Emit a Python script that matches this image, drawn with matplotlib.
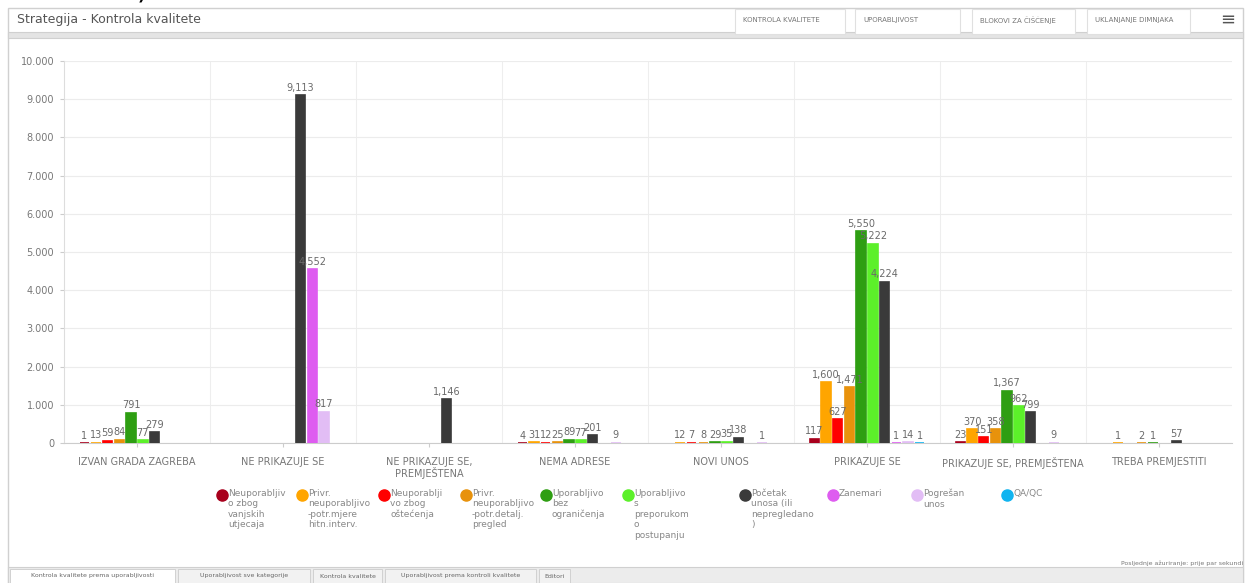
import numpy as np
import matplotlib.pyplot as plt
from matplotlib.patches import Rectangle

kategorije = ['IZVAN GRADA ZAGREBA', 'NE PRIKAZUJE SE', 'NE PRIKAZUJE SE,\nPREMJEŠTENA',
              'NEMA ADRESE', 'NOVI UNOS', 'PRIKAZUJE SE', 'PRIKAZUJE SE, PREMJEŠTENA',
              'TREBA PREMJESTITI']

serije = ['Neuporabljiv\no zbog\nvanjskih\nutjecaja',
          'Privr.\nneuporabljivo\n-potr.mjere\nhitn.interv.',
          'Neuporablji\nvo zbog\noštećenja',
          'Privr.\nneuporabljivo\n-potr.detalj.\npregled',
          'Uporabljivo\nbez\nograničenja',
          'Uporabljivo\ns\npreporukom\no\npostupanju',
          'Početak\nunosa (ili\nnepregledano\n)',
          'Zanemari',
          'Pogrešan\nunos',
          'QA/QC']
boje = ['#a8001c', '#ffa500', '#ff0000', '#e8920c', '#2e9e12', '#5cf02a',
        '#3a3a3a', '#de5cf0', '#e2bdf5', '#10b4f0']

N = None
# vrijednosti po seriji (redovi) i kategoriji (stupci)
neup_vanjski = [1, N, N, 4, N, 117, 23, N]
privr_hitn = [13, N, N, 31, 12, 1600, 370, 1]
neup_ostecenja = [59, N, N, 12, 7, 627, 151, N]
privr_detalj = [84, N, N, 25, 8, 1471, 358, 2]
upor_bez = [791, N, N, 89, 29, 5550, 1367, 1]
upor_prep = [77, N, N, 77, 35, 5222, 962, N]
pocetak = [279, 9113, 1146, 201, 138, 4224, 799, 57]
zanemari = [N, 4552, N, N, N, 1, N, N]
pogresan = [N, 817, N, 9, 1, 14, 9, N]
qaqc = [N, N, N, N, N, 1, N, N]
podaci = [neup_vanjski, privr_hitn, neup_ostecenja, privr_detalj, upor_bez,
          upor_prep, pocetak, zanemari, pogresan, qaqc]

yticks = [0, 1000, 2000, 3000, 4000, 5000, 6000, 7000, 8000, 9000, 10000]

W, H = 1247, 583
fig = plt.figure(figsize=(W / 100, H / 100), dpi=100)
fig.patch.set_facecolor('white')

def px(x, y):
    return x / W, 1 - y / H

# okvir nadzorne ploče
fig.add_artist(Rectangle(px(8, 583), 1235 / W, 575 / H, transform=fig.transFigure,
                         facecolor='white', edgecolor='#d0d0d0', lw=1, zorder=0.1))
fig.add_artist(Rectangle(px(8, 38), 1235 / W, 6 / H, transform=fig.transFigure,
                         facecolor='#e4e4e4', edgecolor='#d0d0d0', lw=0.8))
fig.add_artist(Rectangle(px(8, 583), 1235 / W, 16 / H, transform=fig.transFigure,
                         facecolor='#ececec', edgecolor='#d0d0d0', lw=0.8))
fig.text(*px(40, -9), '10.555).', fontsize=20, color='black', va='center')
fig.text(*px(17, 20), 'Strategija - Kontrola kvalitete', fontsize=9, color='#555555', va='center')

gumbi = [('KONTROLA KVALITETE', 735, 845), ('UPORABLJIVOST', 855, 960),
         ('BLOKOVI ZA ČIŠĆENJE', 972, 1075), ('UKLANJANJE DIMNJAKA', 1087, 1190)]
for t, x0, x1 in gumbi:
    fig.add_artist(Rectangle(px(x0, 34), (x1 - x0) / W, 25 / H, transform=fig.transFigure,
                             facecolor='white', edgecolor='#e0e0e0', lw=0.8))
    fig.text(*px(x0 + 8, 20), t, fontsize=5, color='#777777', va='center')
fig.text(*px(1228, 20), '≡', fontsize=13, color='#555555', va='center', ha='center')

tabovi = [('Kontrola kvalitete prema uporabljivosti', 10, 175),
          ('Uporabljivost sve kategorije', 178, 310),
          ('Kontrola kvalitete', 313, 382),
          ('Uporabljivost prema kontroli kvalitete', 385, 536),
          ('Editori', 539, 570)]
for t, x0, x1 in tabovi:
    fig.add_artist(Rectangle(px(x0, 583), (x1 - x0) / W, 14 / H, transform=fig.transFigure,
                             facecolor='white' if x0 == 10 else '#f2f2f2',
                             edgecolor='#cccccc', lw=0.6))
    fig.text(*px((x0 + x1) / 2, 576), t, fontsize=4.5, color='#666666', va='center', ha='center')
fig.text(*px(1243, 563), 'Posljednje ažuriranje: prije par sekundi', fontsize=4.5,
         color='#777777', va='center', ha='right')

# grafikon
ax = fig.add_axes([64 / W, 1 - 443 / H, (1232 - 64) / W, (443 - 61) / H])
ax.set_zorder(5)
ax.set_facecolor('none')
n_kat = len(kategorije)
n_ser = len(serije)
x = np.arange(n_kat)
sirina = 0.08
for i in range(n_ser):
    pomak = (i - (n_ser - 1) / 2) * sirina
    for j in range(n_kat):
        v = podaci[i][j]
        if v is None:
            continue
        ax.bar(x[j] + pomak, v, width=sirina * 0.8, color=boje[i],
               edgecolor=boje[i], lw=1.2, zorder=3)
        ax.text(x[j] + pomak, v + 60, f'{v:,}', ha='center', va='bottom',
                fontsize=7, color='#6a6a6a', zorder=4)

ax.set_xlim(-0.5, n_kat - 0.5)
ax.set_ylim(0, 10000)
ax.set_yticks(yticks)
ax.set_yticklabels([f'{t:,}'.replace(',', '.') for t in yticks], fontsize=7, color='#777777')
ax.set_xticks(x)
ax.set_xticklabels(kategorije, fontsize=7, color='#777777', linespacing=1.0)
ax.tick_params(axis='both', length=3, color='#cccccc', pad=4)
ax.tick_params(axis='x', pad=7)
ax.grid(axis='y', color='#ececec', lw=0.8, zorder=0)
for b in np.arange(0.5, n_kat - 1, 1.0):
    ax.axvline(b, color='#eeeeee', lw=0.8, zorder=0)
for s in ['top', 'right']:
    ax.spines[s].set_visible(False)
ax.spines['left'].set_color('#dddddd')
ax.spines['bottom'].set_color('#cccccc')

# legenda
leg_x = [222, 302, 384, 466, 546, 628, 745, 833, 917, 1007]
for i in range(n_ser):
    fig.add_artist(plt.Line2D([leg_x[i] / W], [1 - 495 / H], marker='o', markersize=8,
                              color=boje[i], transform=fig.transFigure))
    fig.text(*px(leg_x[i] + 6, 489), serije[i], fontsize=6.5, color='#888888',
             va='top', ha='left', linespacing=1.2)

plt.savefig('out.png', dpi=100)
